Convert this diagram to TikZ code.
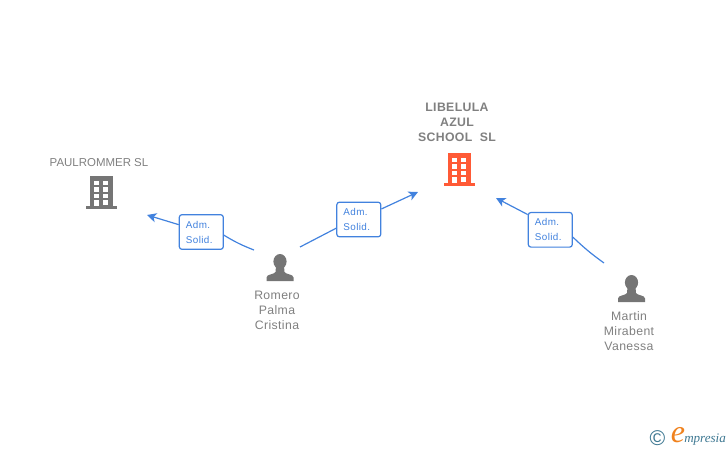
\documentclass[tikz,border=0pt]{standalone}
\usepackage{fontspec}
\setmainfont{Liberation Sans}
\newfontfamily\logoFont{Liberation Serif}
\usetikzlibrary{arrows.meta}
\definecolor{iconGray}{RGB}{117,117,117}
\definecolor{textGray}{RGB}{128,128,128}
\definecolor{linkBlue}{RGB}{66,130,222}
\definecolor{mainOrange}{RGB}{255,90,54}
\definecolor{logoTeal}{RGB}{62,120,146}
\definecolor{logoOrange}{RGB}{240,130,30}
\tikzstyle{pixels} = [x = .75pt, y = -.75pt]
\tikzstyle{roleBox} = [draw=linkBlue, fill=white, rounded corners = 2pt, line width = .9pt, minimum height = 26pt, inner ysep = 0pt, inner xsep = 5pt, text width = 23pt, align = left, text = linkBlue, font = \addfontfeature{LetterSpace=4}\fontsize{7.4}{11.25}\selectfont]
\tikzstyle{roleLine} = [draw=linkBlue, line width = .9pt]
\tikzstyle{roleArrow} = [roleLine, -{Stealth[length=7pt, width=7pt, inset=1.8pt]}]
\tikzstyle{personName} = [text = textGray, align = center, font = \addfontfeature{LetterSpace=3}\fontsize{9.2}{11.25}\selectfont]
\tikzstyle{companyName} = [text = textGray, align = center, font = \fontsize{8.6}{11.25}\selectfont]
\tikzstyle{companyMain} = [text = textGray, align = center, font = \bfseries\addfontfeature{LetterSpace=3}\fontsize{9.2}{11.25}\selectfont]
\newcommand{\buildingIcon}[3]{
  \begin{scope}[shift = {(#1,#2)}]
    \fill [#3] (0,0) rectangle (23,30);
    \fill [#3] (-4,30) rectangle (27,33);
    \foreach \row in {4.5,11,17.5} {
      \fill [white] (4,\row) rectangle +(5,4.5);
      \fill [white] (13,\row) rectangle +(5,4.5);
    }
    \fill [white] (13,24) rectangle +(5,4.5);
    \fill [white] (4,24) rectangle (9,30);
  \end{scope}
}
\newcommand{\personIcon}[3]{
  \begin{scope}[shift = {(#1,#2)}]
    \fill [#3] (0,-.5) ellipse (6.6 and 7.5);
    \fill [#3] (-13.5,19) -- (-13.5,15.5) .. controls (-13.5,12) and (-5.5,12.5) .. (-4.5,10) -- (-4,4) -- (4,4) -- (4.5,10) .. controls (5.5,12.5) and (13.5,12) .. (13.5,15.5) -- (13.5,19) -- cycle;
  \end{scope}
}
\begin{document}
\begin{tikzpicture}[pixels]
  \useasboundingbox (0,0) rectangle (728,450);

  % companies
  \buildingIcon{90}{176}{iconGray}
  \buildingIcon{447.5}{153}{mainOrange}
  \node [companyName] (paulrommer) at (99,163) {PAULROMMER SL};
  \node [companyMain] (libelula) at (457,122.5) {LIBELULA\\AZUL\\SCHOOL\ \ SL};

  % people
  \personIcon{280}{262}{iconGray}
  \personIcon{631.5}{283}{iconGray}
  \node [personName] (romero) at (277,310) {Romero\\Palma\\Cristina};
  \node [personName] (martin) at (629,331) {Martin\\Mirabent\\Vanessa};

  % roles
  \node [roleBox] (admPaul) at (201.3,232) {Adm.\\Solid.};
  \node [roleBox] (admRomero) at (358.8,219.5) {Adm.\\Solid.};
  \node [roleBox] (admMartin) at (550.3,229.8) {Adm.\\Solid.};

  \coordinate (romeroLeft) at (254,250);
  \coordinate (romeroRight) at (300,247);
  \coordinate (martinOut) at (604,263);
  \coordinate (paulTip) at (147,215);
  \coordinate (libelulaLeft) at (418,192);
  \coordinate (libelulaRight) at (496,198);

  \draw [roleLine] (romeroLeft) to [bend left = 5] (admPaul.-8);
  \draw [roleArrow] (admPaul.162) -- (paulTip);
  \draw [roleLine] (romeroRight) -- (admRomero.201);
  \draw [roleArrow] (admRomero.25) -- (libelulaLeft);
  \draw [roleLine] (martinOut) to [bend left = 4] (admMartin.-18);
  \draw [roleArrow] (admMartin.146) -- (libelulaRight);

  % logo
  \node [text = logoTeal, font = \fontsize{16}{16}\selectfont, inner sep = 0pt] (logoMark) at (657.5,438.5) {©};
  \node [text = logoOrange, font = \logoFont\itshape\fontsize{24}{24}\selectfont, inner sep = 0pt] (logoE) at (678,435.5) {e};
  \node [text = logoTeal, font = \logoFont\itshape\fontsize{9.8}{9.8}\selectfont, inner sep = 0pt, anchor = west] (logoText) at (684,439.5) {mpresia};
\end{tikzpicture}
\end{document}
